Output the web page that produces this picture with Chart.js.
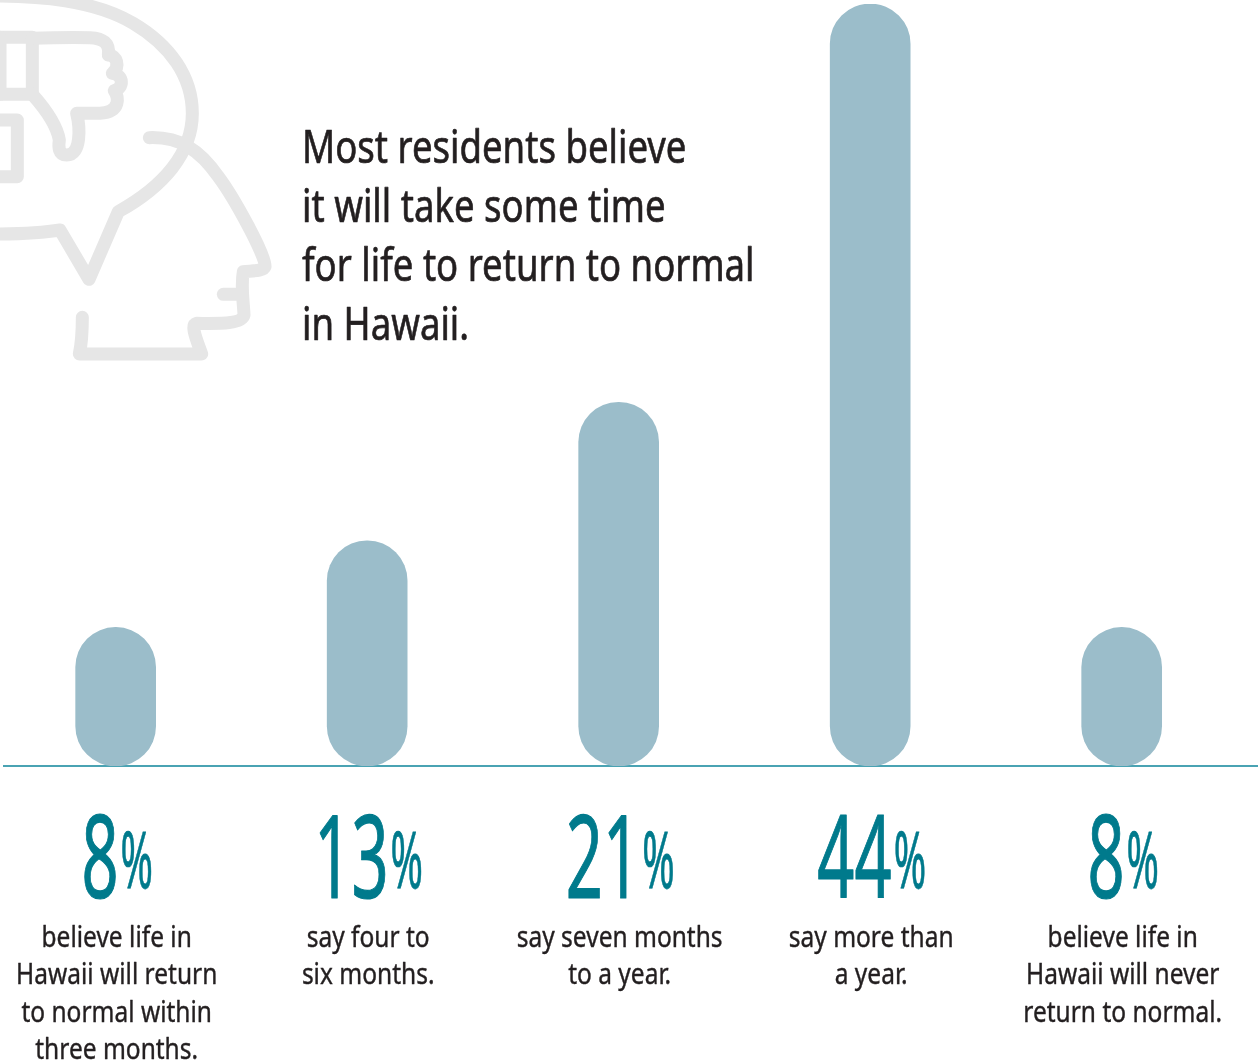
<!DOCTYPE html>
<html>
<head>
<meta charset="utf-8">
<title>Return to normal in Hawaii</title>
<script src="https://cdn.jsdelivr.net/npm/chart.js@4"></script>
<style>
  html, body { margin: 0; padding: 0; background: #fff; overflow: hidden; }
  #stage { position: relative; width: 1258px; height: 1063px; }
  #icon { position: absolute; left: 0; top: 0; }
  #chart { position: absolute; left: 0; top: 0; }
</style>
</head>
<body>
<div id="stage">
  <!-- Head outline with a thumbs-down speech bubble -->
  <svg id="icon" width="290" height="380" viewBox="0 0 870 1140" fill="none" stroke="#e6e6e6" stroke-width="39" stroke-linecap="round" stroke-linejoin="round">
    <path d="M-30,-12 C120,-12 280,0 400,70 C510,135 577,230 577,340 C577,460 490,560 355,635 L267,838 L180,690 C120,700 60,702 -30,702"/>
    <path d="M448,413 C540,410 600,450 655,530 C700,590 800,770 795,800 C790,815 750,812 730,815 C722,860 730,900 732,945 C725,975 640,970 590,970 C570,975 590,1020 605,1062 L238,1062 C245,1030 247,990 247,952"/>
    <path d="M670,883 L725,883"/>
    <path d="M-30,112 L97,112 L97,283 L-30,283"/>
    <path d="M0,112 L0,283"/>
    <path d="M97,115 C150,113 220,112 270,113 C310,115 330,130 325,165 C350,165 362,200 337,220 C372,225 372,265 343,272 C355,290 365,335 300,340 L230,340 C240,380 245,465 200,465 C175,465 175,440 178,420 C170,370 130,320 97,283"/>
    <path d="M-30,360 L52,360 L52,530 L-30,530"/>
  </svg>
  <canvas id="chart" width="1258" height="1063"></canvas>
</div>
<script>
// Survey answers: how long until life in Hawaii returns to normal
const categories = [
  ["believe life in", "Hawaii will return", "to normal within", "three months."],
  ["say four to", "six months."],
  ["say seven months", "to a year."],
  ["say more than", "a year."],
  ["believe life in", "Hawaii will never", "return to normal."]
];
const shares = [8, 13, 21, 44, 8];
const headline = [
  "Most residents believe",
  "it will take some time",
  "for life to return to normal",
  "in Hawaii."
];

const INK = "#231f20";
const TEAL = "#007a8c";
const FACE = "'Noto Sans', Lato, sans-serif";

// The type is a condensed humanist face, so a regular face is squeezed
// horizontally and thickened a little with an outline of the same colour.
function squeezed(ctx, text, x, y, size, color, squeeze, align, thicken) {
  ctx.save();
  ctx.font = `400 ${size}px ${FACE}`;
  ctx.fillStyle = color;
  ctx.strokeStyle = color;
  ctx.lineWidth = thicken;
  ctx.lineJoin = "round";
  ctx.textBaseline = "alphabetic";
  ctx.textAlign = "left";
  const w = ctx.measureText(text).width * squeeze;
  const left = align === "center" ? x - w / 2 : x;
  ctx.translate(left, y);
  ctx.scale(squeeze, 1);
  ctx.fillText(text, 0, 0);
  ctx.strokeText(text, 0, 0);
  ctx.restore();
  return w;
}

function widthOf(ctx, text, size, squeeze) {
  ctx.save();
  ctx.font = `400 ${size}px ${FACE}`;
  const w = ctx.measureText(text).width * squeeze;
  ctx.restore();
  return w;
}

// Headline, big percentages and captions under each bar
const annotations = {
  id: "annotations",
  afterDraw(chart) {
    const { ctx, scales: { x } } = chart;

    headline.forEach((line, i) => {
      squeezed(ctx, line, 302, 163 + i * 59, 46, INK, 0.795, "left", 0.7);
    });

    shares.forEach((value, i) => {
      const cx = x.getPixelForValue(i);
      const digits = String(value);
      const dw = widthOf(ctx, digits, 116, 0.56);
      const pw = widthOf(ctx, "%", 78, 0.5);
      const gap = 2;
      const start = cx + 1.5 - (dw + gap + pw) / 2;
      squeezed(ctx, digits, start, 898, 116, TEAL, 0.56, "left", 1.2);
      squeezed(ctx, "%", start + dw + gap, 888, 78, TEAL, 0.5, "left", 0.8);

      categories[i].forEach((line, j) => {
        squeezed(ctx, line, cx + 1, 947 + j * 37.4, 29, INK, 0.845, "center", 0.4);
      });
    });
  }
};

new Chart(document.getElementById("chart"), {
  type: "bar",
  data: {
    labels: categories.map(lines => lines.join(" ")),
    datasets: [{
      label: "Share of residents (%)",
      data: shares.map((v, i) => ({ x: i, y: v })),
      backgroundColor: "#9bbdca",
      borderWidth: 0,
      borderRadius: 40,
      borderSkipped: false,
      barThickness: 80
    }]
  },
  options: {
    responsive: false,
    animation: false,
    layout: { padding: { left: 4, right: 0, top: 4, bottom: 297 } },
    plugins: { legend: { display: false }, tooltip: { enabled: false }, title: { display: false } },
    scales: {
      x: {
        type: "linear",
        min: -0.444,
        max: 4.542,
        offset: false,
        grid: { display: false, drawTicks: false },
        border: { display: true, color: "#4aa3b3", width: 2 },
        ticks: { display: false }
      },
      y: {
        min: 0,
        max: 44,
        display: false
      }
    }
  },
  plugins: [annotations]
});
</script>
</body>
</html>
